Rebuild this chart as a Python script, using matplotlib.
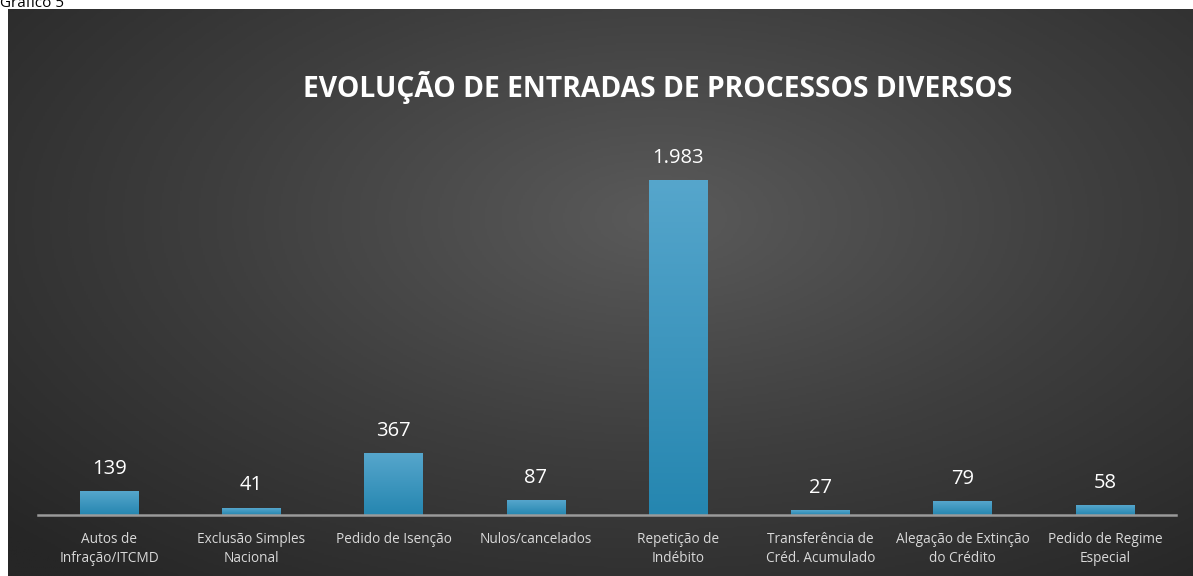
import numpy as np
import matplotlib.pyplot as plt
from matplotlib.colors import LinearSegmentedColormap

# ----------- Dados -----------
categorias = ['Autos de\nInfração/ITCMD', 'Exclusão Simples\nNacional', 'Pedido de Isenção',
              'Nulos/cancelados', 'Repetição de\nIndébito', 'Transferência de\nCréd. Acumulado',
              'Alegação de Extinção\ndo Crédito', 'Pedido de Regime\nEspecial']
valores = [139, 41, 367, 87, 1983, 27, 79, 58]
rotulos = ['139', '41', '367', '87', '1.983', '27', '79', '58']

W, H = 1193, 576
fig = plt.figure(figsize=(W / 100, H / 100), dpi=100)
fig.patch.set_facecolor('white')

# ----------- Fundo com gradiente radial -----------
bg = fig.add_axes([8 / W, 0, 1 - 8 / W, 1 - 9 / H])
yy, xx = np.mgrid[0:300, 0:600]
cx, cy = 330, 110
d = np.sqrt(((xx - cx) / 600) ** 2 + ((yy - cy) / 330) ** 2)
d = np.clip(d / 0.75, 0, 1)
cmap_bg = LinearSegmentedColormap.from_list('bg', ['#5a5a5a', '#3e3e3e', '#262626'])
bg.imshow(d, cmap=cmap_bg, aspect='auto', extent=(0, 1, 0, 1), origin='upper')
bg.set_axis_off()

fig.text(0, 1 - 7 / H, 'Gráfico 5', fontsize=11, color='black', va='baseline',
         family='Open Sans')

# ----------- Barras -----------
ax = fig.add_axes([38 / W, (H - 515) / H, (1176 - 38) / W, 415 / H])
ax.set_facecolor('none')
x = np.arange(len(valores))
escala = 1983 / 334  # unidades por pixel

cmap_bar = LinearSegmentedColormap.from_list('bar', ['#2586b0', '#56a6cc'])
grad = np.linspace(0, 1, 256).reshape(-1, 1)
largura = 0.41
for xi, v, r in zip(x, valores, rotulos):
    ax.imshow(grad, cmap=cmap_bar, aspect='auto', origin='lower',
              extent=(xi - largura / 2, xi + largura / 2, 0, v), zorder=3)
    ax.text(xi, v + 75, r, ha='center', va='bottom', color='white', fontsize=14.5,
            family='Open Sans')
ax.set_xlim(-0.5, len(valores) - 0.5)
ax.set_ylim(0, 415 * escala)

for s in ['top', 'right', 'left']:
    ax.spines[s].set_visible(False)
ax.spines['bottom'].set_color('#9a9a9a')
ax.spines['bottom'].set_linewidth(1.8)
ax.spines['bottom'].set_zorder(4)
ax.set_yticks([])
ax.set_xticks(x)
ax.set_xticklabels(categorias, color='#d9d9d9', fontsize=9.8, family='Open Sans',
                   linespacing=1.35)
ax.tick_params(axis='x', length=0, pad=12)

fig.text(658 / W, 1 - 88 / H, 'EVOLUÇÃO DE ENTRADAS DE PROCESSOS DIVERSOS',
         ha='center', va='center', color='white', fontsize=20.3, fontweight='bold',
         family='Open Sans')

plt.savefig('out.png', dpi=100, facecolor=fig.get_facecolor())
